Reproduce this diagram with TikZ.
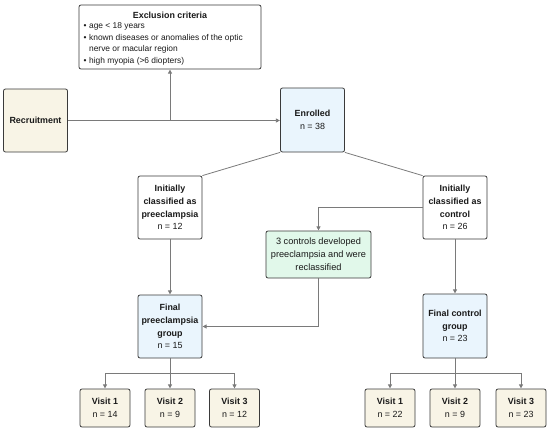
\documentclass[tikz,border=0pt]{standalone}
\usepackage{fontspec}
\setmainfont{Liberation Sans}
\usetikzlibrary{arrows.meta}
\definecolor{beige}{HTML}{F8F4E6}
\definecolor{lblue}{HTML}{EAF5FD}
\definecolor{lgreen}{HTML}{E1F8EA}
\definecolor{bordc}{HTML}{3A3A3A}
\definecolor{linec}{HTML}{7A7A7A}
\begin{document}
\begin{tikzpicture}[x=1pt,y=-1pt,
  box/.style={draw=bordc,line width=0.8pt,rounded corners=2pt,align=center,inner sep=0pt,
    font=\fontsize{8.9}{12.8}\selectfont,text=black!90},
  std/.style={box,minimum width=64pt,minimum height=63pt},
  visitbox/.style={box,fill=beige,minimum width=50pt,minimum height=38pt},
  conn/.style={draw=linec,line width=0.8pt},
  arr/.style={conn,-{Triangle[length=4pt,width=4pt]},shorten >=0.2pt}]
\useasboundingbox (0,0) rectangle (550,431);

% exclusion box
\node[box,minimum width=182pt,minimum height=64pt] (excl) at (170,37) {};
\node[inner sep=0pt,font=\fontsize{8.9}{10}\selectfont\bfseries,text=black!90] (excltitle) at (170,15) {Exclusion criteria};
\node[inner sep=0pt,anchor=west,font=\fontsize{8.4}{9.5}\selectfont,text=black!90] (excltext) at (83.5,43.5)
  {\renewcommand{\arraystretch}{1.21}\begin{tabular}{@{}l@{\hspace{2.5pt}}l@{}}
   \textbullet & age < 18 years\\
   \textbullet & known diseases or anomalies of the optic\\
   & nerve or macular region\\
   \textbullet & high myopia (>6 diopters)
   \end{tabular}};

\node[std,fill=beige] (recr) at (35.5,120.5) {\textbf{Recruitment}};
\node[std,fill=lblue,minimum height=64pt] (enr) at (312.5,120) {\textbf{Enrolled}\\n = 38};
\node[std] (ipre) at (170,207.5) {\textbf{Initially}\\\textbf{classified as}\\\textbf{preeclampsia}\\n = 12};
\node[std] (icon) at (455,207.5) {\textbf{Initially}\\\textbf{classified as}\\\textbf{control}\\n = 26};
\node[box,fill=lgreen,minimum width=105pt,minimum height=47pt,font=\fontsize{9.2}{12.8}\selectfont] (recl) at (318.5,254.5)
  {3 controls developed\\preeclampsia and were\\reclassified};
\node[std,fill=lblue] (fpre) at (170,326.5) {\textbf{Final}\\\textbf{preeclampsia}\\\textbf{group}\\n = 15};
\node[std,fill=lblue,minimum height=64pt] (fcon) at (455,326) {\textbf{Final control}\\\textbf{group}\\n = 23};

\node[visitbox] (v1l) at (105,408) {\textbf{Visit 1}\\n = 14};
\node[visitbox] (v2l) at (170,408) {\textbf{Visit 2}\\n = 9};
\node[visitbox] (v3l) at (234.5,408) {\textbf{Visit 3}\\n = 12};
\node[visitbox] (v1r) at (390,408) {\textbf{Visit 1}\\n = 22};
\node[visitbox] (v2r) at (455,408) {\textbf{Visit 2}\\n = 9};
\node[visitbox] (v3r) at (521,408) {\textbf{Visit 3}\\n = 23};

% connectors
\coordinate (jex) at (170,120.5);
\draw[arr] (recr.east) -- (enr.west |- recr.east);
\draw[arr] (jex) -- (excl.south);
\draw[conn] (enr.south west) -- (ipre.north east);
\draw[conn] (enr.south east) -- (icon.north west);
\draw[arr] (ipre.south) -- (fpre.north);
\draw[arr] (icon.south) -- (fcon.north);
\draw[arr] (icon.west) -| (recl.north);
\draw[arr] (recl.south) |- (fpre.east);

\coordinate (bl) at (170,373);
\coordinate (br) at (455,373);
\draw[conn] (fpre.south) -- (bl);
\draw[arr] (bl) -| (v1l.north);
\draw[arr] (bl) -- (v2l.north);
\draw[arr] (bl) -| (v3l.north);
\draw[conn] (fcon.south) -- (br);
\draw[arr] (br) -| (v1r.north);
\draw[arr] (br) -- (v2r.north);
\draw[arr] (br) -| (v3r.north);
\end{tikzpicture}
\end{document}
